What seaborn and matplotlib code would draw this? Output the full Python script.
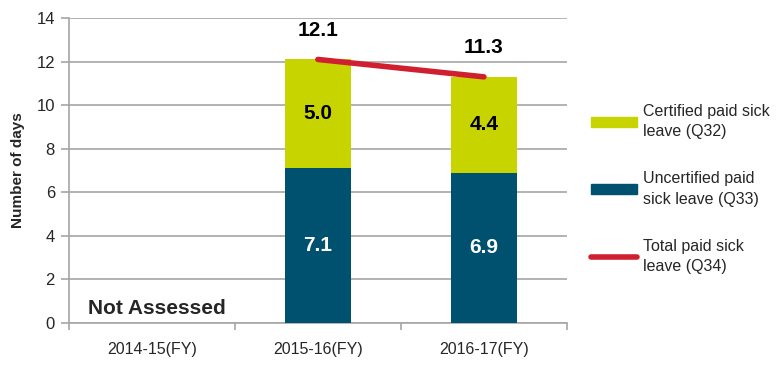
import matplotlib
matplotlib.use("Agg")
import matplotlib.pyplot as plt
import seaborn as sns
import numpy as np
import pandas as pd
from matplotlib.patches import Patch
from matplotlib.lines import Line2D

categories = ["2014-15(FY)", "2015-16(FY)", "2016-17(FY)"]
uncertified = [np.nan, 7.1, 6.9]
certified = [np.nan, 5.0, 4.4]
total = [np.nan, 12.1, 11.3]
series_labels = ["Certified paid sick\nleave (Q32)", "Uncertified paid\nsick leave (Q33)", "Total paid sick\nleave (Q34)"]
yticks = [0, 2, 4, 6, 8, 10, 12, 14]

c_cert = "#c8d400"
c_uncert = "#00506f"
c_total = "#d0202f"

sns.set_theme(style="white")
plt.rcParams["font.family"] = ["Liberation Sans", "DejaVu Sans"]

df = pd.DataFrame({"cat": categories, "unc": uncertified, "cer": certified, "tot": total})
df["stack_top"] = df["unc"] + df["cer"]

fig = plt.figure(figsize=(7.82, 3.69), dpi=100)
ax = fig.add_axes([0.088, 0.125, 0.637, 0.826])

# stacked: draw full stack height in certified colour, then uncertified over it
sns.barplot(data=df, x="cat", y="stack_top", order=categories, color=c_cert, width=0.4,
            saturation=1, ax=ax, zorder=3, edgecolor="none", linewidth=0)
sns.barplot(data=df, x="cat", y="unc", order=categories, color=c_uncert, width=0.4,
            saturation=1, ax=ax, zorder=3, edgecolor="none", linewidth=0)

xs = [i for i, t in enumerate(total) if not np.isnan(t)]
ys = [t for t in total if not np.isnan(t)]
ax.plot(xs, ys, color=c_total, lw=4, solid_capstyle="round", zorder=4)

for i in range(len(categories)):
    if np.isnan(total[i]):
        continue
    ax.text(i, uncertified[i] / 2, f"{uncertified[i]:.1f}", color="white", ha="center",
            va="center", fontsize=15, fontweight="bold", zorder=5)
    ax.text(i, uncertified[i] + certified[i] / 2, f"{certified[i]:.1f}", color="black",
            ha="center", va="center", fontsize=15, fontweight="bold", zorder=5)
    ax.text(i, total[i] + 1.35, f"{total[i]:.1f}", color="black", ha="center",
            va="center", fontsize=15, fontweight="bold", zorder=5)

ax.text(0.03, 0.65, "Not Assessed", ha="center", va="center", fontsize=15, fontweight="bold")

ax.set_ylim(0, 14)
ax.set_xlim(-0.5, 2.5)
ax.set_yticks(yticks)
ax.yaxis.grid(True, color="#a6a6a6", lw=1.2, zorder=0)
ax.set_axisbelow(True)
ax.set_xlabel("")
ax.set_ylabel("Number of days", fontsize=11, fontweight="bold", labelpad=8)
ax.tick_params(axis="y", labelsize=12, left=True, length=6, color="#a6a6a6", width=1.2, pad=4)
ax.tick_params(axis="x", labelsize=11.5, bottom=False, pad=8)
ax.set_xticks([-0.5, 0.5, 1.5, 2.5], minor=True)
ax.tick_params(axis="x", which="minor", bottom=True, length=5, color="#a6a6a6", width=1.2)
for s in ["top", "right"]:
    ax.spines[s].set_visible(False)
for s in ["left", "bottom"]:
    ax.spines[s].set_color("#a6a6a6")
    ax.spines[s].set_linewidth(1.2)

handles = [Patch(color=c_cert), Patch(color=c_uncert),
           Line2D([0], [0], color=c_total, lw=4, solid_capstyle="round")]
leg = fig.legend(handles, series_labels, loc="center left", bbox_to_anchor=(0.737, 0.488),
                 frameon=False, fontsize=11.5, handlelength=2.9, handleheight=0.55,
                 labelspacing=2.0, handletextpad=0.4)
for t in leg.get_texts():
    t.set_linespacing(1.45)

fig.savefig("out.png", dpi=100)
